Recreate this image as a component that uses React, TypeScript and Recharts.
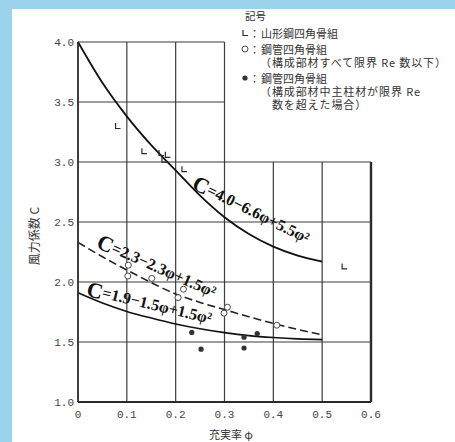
import {
  ComposedChart, Line, Scatter, XAxis, YAxis, ReferenceLine, ReferenceDot, Legend
} from "recharts";

// 充実率 φ のサンプル点
const phiSteps = [0, 0.05, 0.1, 0.15, 0.2, 0.25, 0.3, 0.35, 0.4, 0.45, 0.5];
// 風力係数 C（各曲線）
const curveC1 = [4.0, 3.66, 3.38, 3.14, 2.93, 2.72, 2.54, 2.4, 2.295, 2.22, 2.17];
const curveC2 = [2.33, 2.21, 2.1, 1.995, 1.9, 1.83, 1.77, 1.71, 1.655, 1.605, 1.56];
const curveC3 = [1.91, 1.825, 1.755, 1.7, 1.65, 1.61, 1.578, 1.553, 1.537, 1.526, 1.52];

// 実験値：山形鋼四角骨組
const anglePhi = [0.081, 0.135, 0.17, 0.183, 0.176, 0.217, 0.545];
const angleC = [3.3, 3.09, 3.075, 3.06, 3.02, 2.94, 2.13];
// 鋼管四角骨組（限界 Re 数以下）
const pipeLowPhi = [0.103, 0.102, 0.151, 0.216, 0.205, 0.306, 0.299, 0.407];
const pipeLowC = [2.14, 2.05, 2.03, 1.94, 1.87, 1.79, 1.74, 1.64];
// 鋼管四角骨組（主柱材が限界 Re 数超）
const pipeHighPhi = [0.233, 0.252, 0.34, 0.367, 0.34];
const pipeHighC = [1.58, 1.44, 1.54, 1.57, 1.45];

const xTicks = [0, 0.1, 0.2, 0.3, 0.4, 0.5, 0.6];
const yTicks = [1.0, 1.5, 2.0, 2.5, 3.0, 3.5, 4.0];

const legendTitle = "記号";
const legendRows = [
  { mark: "angle", lines: ["山形鋼四角骨組"] },
  { mark: "open", lines: ["鋼管四角骨組", "（構成部材すべて限界 Re 数以下）"] },
  { mark: "filled", lines: ["鋼管四角骨組", "（構成部材中主柱材が限界 Re", "\u3000数を超えた場合）"] },
];

const curve = (vals: number[]) => phiSteps.map((phi, i) => ({ phi, c: vals[i] }));
const points = (xs: number[], ys: number[]) => xs.map((phi, i) => ({ phi, c: ys[i] }));

// 上段は φ=0.3 まで、右側は C=3.0 までしか枠がない
const boxPhi = 0.3;
const boxC = 3.0;

const INK = "#2a2a2a";
const GRID = "#3c3c3c";
const CJK = "'Noto Sans CJK JP', sans-serif";
const MONO = "'Liberation Mono', monospace";
const SERIF = "'Liberation Serif', serif";

const AngleMark = ({ cx, cy }: any) => (
  <path d={`M${cx - 2},${cy - 3}V${cy + 2.5}H${cx + 3}`} fill="none" stroke={INK} strokeWidth={1.2} />
);
const OpenMark = ({ cx, cy }: any) => (
  <circle cx={cx} cy={cy} r={3} fill="#fff" stroke="#4a4a4a" strokeWidth={1} />
);
const FilledMark = ({ cx, cy }: any) => <circle cx={cx} cy={cy} r={2.6} fill="#333" />;

const CurveLabel = ({ cx, cy, angle, a, b, d }: any) => (
  <text
    transform={`translate(${cx},${cy}) rotate(${angle})`}
    fontFamily={SERIF}
    fontWeight="bold"
    fill="#111"
    dominantBaseline="central"
  >
    <tspan fontSize={22}>C</tspan>
    <tspan fontSize={16}>{`=${a}−${b}φ+${d}φ²`}</tspan>
  </text>
);

// 凡例：1項目を1つの text にまとめ、行は tspan で送る
const LegendBox = () => {
  const marks: Record<string, any> = { angle: AngleMark, open: OpenMark, filled: FilledMark };
  const lineGap = 13;
  let y = 33;
  const rows: any[] = [];
  legendRows.forEach((row, ri) => {
    const Mark = marks[row.mark];
    rows.push(
      <g key={ri}>
        <Mark cx={15} cy={y} />
        <text y={y} dominantBaseline="central" fontSize={11} fontFamily={CJK} fill="#333">
          <tspan x={19}>：</tspan>
          {row.lines.map((line, li) => (
            <tspan
              key={li}
              x={li === 0 ? 31 : 30}
              y={y + li * lineGap}
              letterSpacing={li === 0 ? 0 : 0.9}
            >
              {line}
            </tspan>
          ))}
        </text>
      </g>
    );
    y += row.lines.length * lineGap + 3;
  });
  return (
    <svg width={225} height={115} style={{ display: "block" }}>
      <text x={15} y={15} dominantBaseline="central" fontSize={10.5} fontFamily={CJK} fill="#333">
        {legendTitle}
      </text>
      {rows}
    </svg>
  );
};

export default function App() {
  return (
    <div style={{ position: "absolute", left: 0, top: 0, width: 455, height: 442, background: "#9bd4ea" }}>
      <div style={{ position: "absolute", left: 12, top: 9, right: 0, bottom: 0, background: "#fff" }} />
      <div style={{ position: "absolute", left: 0, top: 0 }}>
        <ComposedChart width={455} height={442} margin={{ top: 42, right: 84, bottom: 0, left: 18 }}>
          <XAxis
            dataKey="phi"
            type="number"
            domain={[0, 0.6]}
            ticks={xTicks}
            tickFormatter={(v: number) => (v === 0 ? "0" : v.toFixed(1))}
            tickLine={false}
            axisLine={{ stroke: INK, strokeWidth: 1.8 }}
            tick={{ fontFamily: MONO, fontSize: 11, fill: "#444" }}
            height={40}
            label={() => (
              <text x={231} y={434} textAnchor="middle" dominantBaseline="central" fontFamily={CJK} fontSize={11} fill="#333">
                充実率 φ
              </text>
            )}
          />
          <YAxis
            dataKey="c"
            type="number"
            domain={[1, 4]}
            ticks={yTicks}
            tickFormatter={(v: number) => v.toFixed(1)}
            tickLine={false}
            tickSize={2}
            axisLine={{ stroke: INK, strokeWidth: 1.8 }}
            tick={{ fontFamily: MONO, fontSize: 11, fill: "#444" }}
            width={60}
            label={() => (
              <text transform="translate(33,236) rotate(-90)" textAnchor="middle" dominantBaseline="central" fontFamily={CJK} fontSize={12} fill="#333">
                風力係数 C
              </text>
            )}
          />

          {xTicks.slice(1).map((x) => (
            <ReferenceLine
              key={`vx${x}`}
              segment={[{ x, y: 1 }, { x, y: x <= boxPhi ? 4 : boxC }]}
              stroke={x === 0.6 ? INK : GRID}
              strokeWidth={x === 0.6 ? 2.4 : 1.2}
            />
          ))}
          {yTicks.slice(1).map((y) => (
            <ReferenceLine
              key={`hy${y}`}
              segment={[{ x: 0, y }, { x: y <= boxC ? 0.6 : boxPhi, y }]}
              stroke={GRID}
              strokeWidth={1.2}
            />
          ))}

          <Line data={curve(curveC1)} dataKey="c" type="monotone" stroke="#111" strokeWidth={1.8} dot={false} isAnimationActive={false} />
          <Line data={curve(curveC2)} dataKey="c" type="monotone" stroke="#222" strokeWidth={1.6} strokeDasharray="8 4" dot={false} isAnimationActive={false} />
          <Line data={curve(curveC3)} dataKey="c" type="monotone" stroke="#111" strokeWidth={1.6} dot={false} isAnimationActive={false} />

          <Scatter data={points(anglePhi, angleC)} dataKey="c" shape={AngleMark} isAnimationActive={false} />
          <Scatter data={points(pipeLowPhi, pipeLowC)} dataKey="c" shape={OpenMark} isAnimationActive={false} />
          <Scatter data={points(pipeHighPhi, pipeHighC)} dataKey="c" shape={FilledMark} isAnimationActive={false} />

          <ReferenceDot x={0.238} y={2.84} r={0} shape={(p: any) => <CurveLabel {...p} angle={26.5} a="4.0" b="6.6" d="5.5" />} />
          <ReferenceDot x={0.042} y={2.35} r={0} shape={(p: any) => <CurveLabel {...p} angle={24} a="2.3" b="2.3" d="1.5" />} />
          <ReferenceDot x={0.019} y={1.95} r={0} shape={(p: any) => <CurveLabel {...p} angle={13.5} a="1.9" b="1.5" d="1.5" />} />

          <Legend
            layout="horizontal"
            verticalAlign="middle"
            align="center"
            content={() => <LegendBox />}
            wrapperStyle={{ top: 0, left: 230, width: 225, height: 115 }}
          />
        </ComposedChart>
      </div>
    </div>
  );
}
